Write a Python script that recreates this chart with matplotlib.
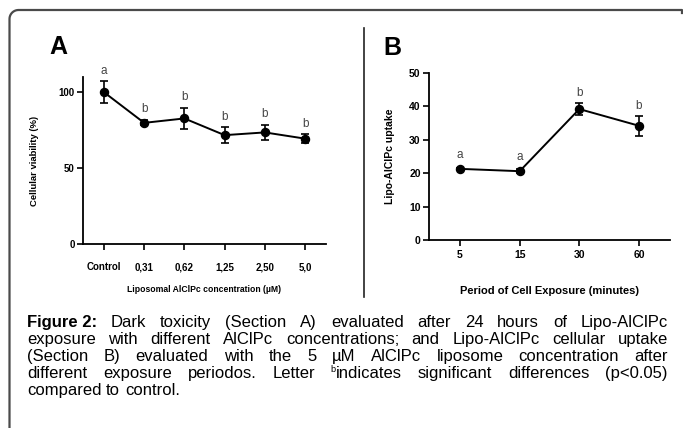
import numpy as np
import matplotlib
matplotlib.use("Agg")
import matplotlib.pyplot as plt
from matplotlib.lines import Line2D

# panel A: dark toxicity
conc_labels = ["Control", "0,31", "0,62", "1,25", "2,50", "5,0"]
viability = [100, 79.8, 82.7, 71.7, 73.5, 69.4]
viability_err = [7.1, 1.6, 7.2, 5.1, 5.2, 2.9]
viability_sig = ["a", "b", "b", "b", "b", "b"]

# panel B: uptake over time
time_labels = ["5", "15", "30", "60"]
uptake = [21.3, 20.6, 39.2, 34.2]
uptake_err = [0.4, 0.6, 1.9, 3.0]
uptake_sig = ["a", "a", "b", "b"]

caption_lines = [
    [("Figure 2:", "bold"), "Dark", "toxicity", "(Section", "A)", "evaluated", "after", "24",
     "hours", "of", "Lipo-AlClPc"],
    ["exposure", "with", "different", "AlClPc", "concentrations;", "and", "Lipo-AlClPc",
     "cellular", "uptake"],
    ["(Section", "B)", "evaluated", "with", "the", "5", "µM", "AlClPc", "liposome",
     "concentration", "after"],
    ["different", "exposure", "periodos.", "Letter", ("b", "sup"), "significant",
     "differences", "(p<0.05)"],
    ["compared", "to", "control."],
]

W, H = 683, 428
plt.rcParams["font.family"] = ["Liberation Sans", "DejaVu Sans"]
fig = plt.figure(figsize=(W / 100, H / 100), dpi=100)


def fx(x):
    return x / W


def fy(y):
    return 1 - y / H


def panel(left, right, top, bottom, labels, values, errs, sig, ylim, yticks, tick_size):
    ax = fig.add_axes([fx(left), fy(bottom), fx(right) - fx(left), fy(top) - fy(bottom)])
    xs = list(range(len(labels)))
    ax.errorbar(xs, values, yerr=errs, color="black", lw=1.4, marker="o", ms=5.8,
                capsize=3.2, capthick=1.2, elinewidth=1.2)
    ax.set_xlim(-0.52, len(labels) - 0.48)
    ax.set_ylim(*ylim)
    ax.set_yticks(yticks)
    ax.set_xticks(xs)
    ax.set_xticklabels(labels)
    for s in ["top", "right"]:
        ax.spines[s].set_visible(False)
    for s in ["left", "bottom"]:
        ax.spines[s].set_linewidth(1.3)
    ax.tick_params(direction="out", length=4, width=1.2, labelsize=tick_size, pad=2)
    for t in ax.get_xticklabels() + ax.get_yticklabels():
        t.set_fontweight("bold")
    ax.tick_params(axis="x", pad=9)
    unit = ax.transData.transform((0, 1))[1] - ax.transData.transform((0, 0))[1]
    for x, v, e, s in zip(xs, values, errs, sig):
        off = max(e * unit, 4.0) / 1.389 + 3
        ax.annotate(s, (x, v), xytext=(0, off), textcoords="offset points",
                    ha="center", va="bottom", fontsize=8.5, color="#444444")
    return ax


axA = panel(83, 326, 77, 244, conc_labels, viability, viability_err, viability_sig,
            (0, 110), [0, 50, 100], 7)
axA.set_xlabel("Liposomal AlClPc concentration (µM)", fontsize=6.2, fontweight="bold", labelpad=9)
axA.set_ylabel("Cellular viability (%)", fontsize=6.8, fontweight="bold", labelpad=14)

axB = panel(429, 670, 73, 240, time_labels, uptake, uptake_err, uptake_sig,
            (0, 50), [0, 10, 20, 30, 40, 50], 7.5)
axB.tick_params(axis="x", pad=3)
axB.set_xlabel("Period of Cell Exposure (minutes)", fontsize=8, fontweight="semibold", labelpad=19)
axB.set_ylabel("Lipo-AlClPc uptake", fontsize=7.5, fontweight="bold", labelpad=10)

fig.text(fx(58), fy(47), "A", fontsize=18, fontweight="bold", ha="center", va="center")
fig.text(fx(392), fy(48), "B", fontsize=18, fontweight="bold", ha="center", va="center")

# frame: left and top edges joined by a rounded corner, small drop at the right end
r = 9
ang = np.linspace(np.pi, np.pi / 2, 12)
frame_x = [9.5, 9.5] + list(9.5 + r + r * np.cos(ang)) + [682, 682]
frame_y = [430, 10 + r] + list(10 + r - r * np.sin(ang)) + [10, 13]
fig.add_artist(Line2D([fx(v) for v in frame_x], [fy(v) for v in frame_y],
                      transform=fig.transFigure, color="#4a4a4a", lw=1.6))
fig.add_artist(Line2D([fx(364), fx(364)], [fy(28), fy(297)], transform=fig.transFigure,
                      color="#222222", lw=1.2))

# justified caption
cap_size = 12
x0, x1 = 27, 668
baselines = [327, 344, 361, 378, 395]
fig.canvas.draw()
renderer = fig.canvas.get_renderer()


def make_word(w):
    if isinstance(w, tuple) and w[1] == "sup":
        sup = fig.text(0, 0, w[0], fontsize=cap_size * 0.55, va="baseline")
        body = fig.text(0, 0, "indicates", fontsize=cap_size, va="baseline")
        return [(sup, 6), (body, 0)]
    if isinstance(w, tuple):
        return [(fig.text(0, 0, w[0], fontsize=cap_size, fontweight=w[1], va="baseline"), 0)]
    return [(fig.text(0, 0, w, fontsize=cap_size, va="baseline"), 0)]


probe1 = fig.text(0, 0, "a a", fontsize=cap_size)
probe2 = fig.text(0, 0, "aa", fontsize=cap_size)
space = probe1.get_window_extent(renderer).width - probe2.get_window_extent(renderer).width
probe1.remove()
probe2.remove()

for i, line in enumerate(caption_lines):
    words = [make_word(w) for w in line]
    widths = [[p.get_window_extent(renderer).width for p, _ in parts] for parts in words]
    total = sum(sum(ws) for ws in widths)
    if i < len(caption_lines) - 1:
        gap = (x1 - x0 - total) / (len(words) - 1)
    else:
        gap = space
    x = x0
    for parts, ws in zip(words, widths):
        for (p, dy), w in zip(parts, ws):
            p.set_position((fx(x), fy(baselines[i] - dy)))
            x += w
        x += gap

fig.savefig("out.png", dpi=100)
